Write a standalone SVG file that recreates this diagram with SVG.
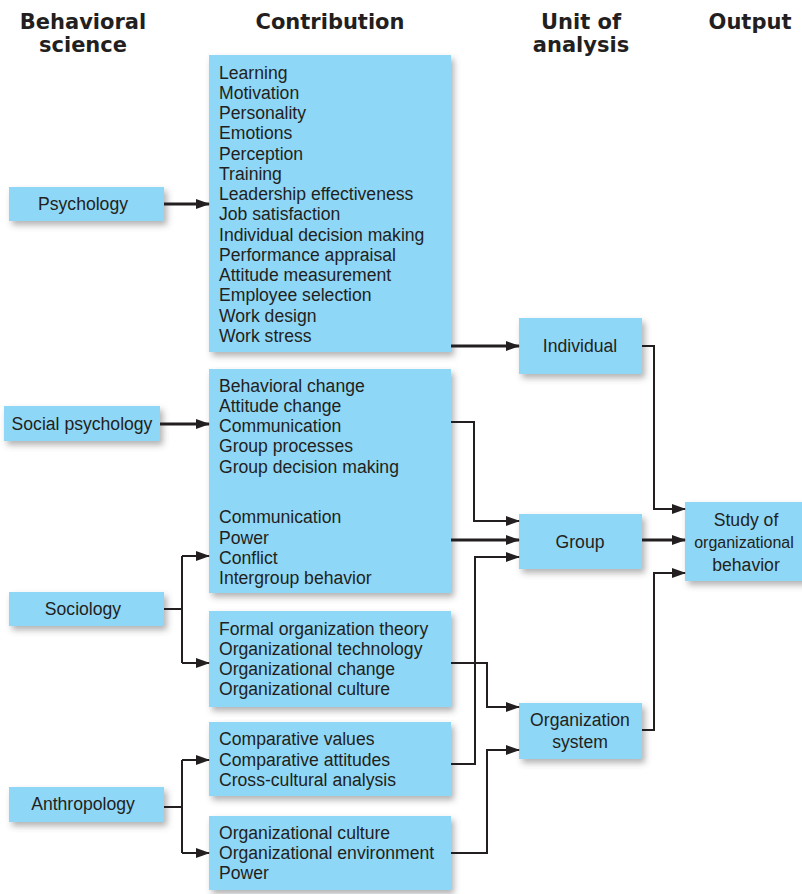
<svg xmlns="http://www.w3.org/2000/svg" width="802" height="894" viewBox="0 0 802 894">
<defs>
<filter id="sh" x="-10%" y="-10%" width="130%" height="140%">
<feDropShadow dx="3" dy="4" stdDeviation="3" flood-color="#555" flood-opacity="0.45"/>
</filter>
<marker id="ah" markerWidth="14" markerHeight="10" refX="13" refY="5" orient="auto" markerUnits="userSpaceOnUse">
<path d="M0,0 L14,5 L0,10 Z" fill="#231f20"/>
</marker>
</defs>
<style>
.box{fill:#8fd7f6;filter:url(#sh)}
.t{font-family:"Liberation Sans",Arial,sans-serif;font-size:17.6px;fill:#231f20}
.c{text-anchor:middle}
.h{font-family:"DejaVu Sans","Liberation Sans",sans-serif;font-size:21px;font-weight:bold;fill:#231f20;text-anchor:middle}
.ln{fill:none;stroke:#231f20;stroke-width:2}
.lk{fill:none;stroke:#231f20;stroke-width:3}
</style>
<rect width="802" height="894" fill="#fff"/>
<g id="headers">
<text class="h" x="83" y="29">Behavioral</text>
<text class="h" x="83" y="52">science</text>
<text class="h" x="330" y="29">Contribution</text>
<text class="h" x="581" y="29">Unit of</text>
<text class="h" x="581" y="52">analysis</text>
<text class="h" x="750" y="29">Output</text>
</g>
<g id="psychology"><rect class="box" x="9" y="187" width="155" height="34"/><text class="t c" x="83" y="210">Psychology</text></g>
<g id="social-psychology"><rect class="box" x="4" y="406" width="156" height="35"/><text class="t c" x="82" y="430">Social psychology</text></g>
<g id="sociology"><rect class="box" x="9" y="592" width="155" height="34"/><text class="t c" x="83" y="615">Sociology</text></g>
<g id="anthropology"><rect class="box" x="9" y="787" width="155" height="35"/><text class="t c" x="83" y="810">Anthropology</text></g>
<g id="psych-contrib"><rect class="box" x="209" y="55" width="242" height="297"/>
<text class="t" x="219" y="79">Learning</text>
<text class="t" x="219" y="99">Motivation</text>
<text class="t" x="219" y="119">Personality</text>
<text class="t" x="219" y="139">Emotions</text>
<text class="t" x="219" y="160">Perception</text>
<text class="t" x="219" y="180">Training</text>
<text class="t" x="219" y="200">Leadership effectiveness</text>
<text class="t" x="219" y="220">Job satisfaction</text>
<text class="t" x="219" y="241">Individual decision making</text>
<text class="t" x="219" y="261">Performance appraisal</text>
<text class="t" x="219" y="281">Attitude measurement</text>
<text class="t" x="219" y="301">Employee selection</text>
<text class="t" x="219" y="322">Work design</text>
<text class="t" x="219" y="342">Work stress</text>
</g>
<g id="social-contrib"><rect class="box" x="209" y="369" width="242" height="224"/>
<text class="t" x="219" y="392">Behavioral change</text>
<text class="t" x="219" y="412">Attitude change</text>
<text class="t" x="219" y="432">Communication</text>
<text class="t" x="219" y="452">Group processes</text>
<text class="t" x="219" y="473">Group decision making</text>
<text class="t" x="219" y="523">Communication</text>
<text class="t" x="219" y="544">Power</text>
<text class="t" x="219" y="564">Conflict</text>
<text class="t" x="219" y="584">Intergroup behavior</text>
</g>
<g id="org-contrib"><rect class="box" x="209" y="611" width="242" height="96"/>
<text class="t" x="219" y="635">Formal organization theory</text>
<text class="t" x="219" y="655">Organizational technology</text>
<text class="t" x="219" y="675">Organizational change</text>
<text class="t" x="219" y="695">Organizational culture</text>
</g>
<g id="anthro-contrib1"><rect class="box" x="209" y="722" width="242" height="74"/>
<text class="t" x="219" y="745">Comparative values</text>
<text class="t" x="219" y="766">Comparative attitudes</text>
<text class="t" x="219" y="786">Cross-cultural analysis</text>
</g>
<g id="anthro-contrib2"><rect class="box" x="209" y="816" width="242" height="74"/>
<text class="t" x="219" y="839">Organizational culture</text>
<text class="t" x="219" y="859">Organizational environment</text>
<text class="t" x="219" y="879">Power</text>
</g>
<g id="individual"><rect class="box" x="519" y="318" width="123" height="56"/><text class="t c" x="580" y="352">Individual</text></g>
<g id="group"><rect class="box" x="519" y="514" width="123" height="55"/><text class="t c" x="580" y="548">Group</text></g>
<g id="org-system"><rect class="box" x="519" y="703" width="123" height="56"/><text class="t c" x="580" y="726">Organization</text><text class="t c" x="580" y="748">system</text></g>
<g id="study"><rect class="box" x="685" y="502" width="130" height="79"/><text class="t c" x="746" y="526">Study of</text><text class="t c" x="744" y="548" style="font-size:16px">organizational</text><text class="t c" x="746" y="571">behavior</text></g>
<g id="connectors">
<path class="lk" d="M164,204 H209" marker-end="url(#ah)"/>
<path class="lk" d="M160,424 H209" marker-end="url(#ah)"/>
<path class="ln" d="M164,609 H182"/>
<path class="ln" d="M182,556 V663"/>
<path class="ln" d="M182,556 H209" marker-end="url(#ah)"/>
<path class="ln" d="M182,663 H209" marker-end="url(#ah)"/>
<path class="ln" d="M164,807 H182"/>
<path class="ln" d="M182,760 V853"/>
<path class="ln" d="M182,760 H209" marker-end="url(#ah)"/>
<path class="ln" d="M182,853 H209" marker-end="url(#ah)"/>
<path class="lk" d="M451,346 H519" marker-end="url(#ah)"/>
<path class="ln" d="M451,422 H474 V521 H519" marker-end="url(#ah)"/>
<path class="lk" d="M451,540 H519" marker-end="url(#ah)"/>
<path class="ln" d="M451,764 H475 V557 H519" marker-end="url(#ah)"/>
<path class="ln" d="M451,663 H487 V707 H519" marker-end="url(#ah)"/>
<path class="ln" d="M451,853 H487 V750 H519" marker-end="url(#ah)"/>
<path class="ln" d="M642,346 H654 V509 H685" marker-end="url(#ah)"/>
<path class="lk" d="M642,540 H685" marker-end="url(#ah)"/>
<path class="ln" d="M642,730 H654 V573 H685" marker-end="url(#ah)"/>
</g>
</svg>
